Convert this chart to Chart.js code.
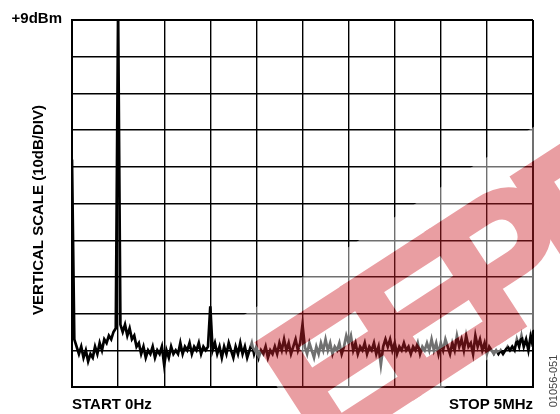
<!DOCTYPE html>
<html>
<head>
<meta charset="utf-8">
<script src="https://cdn.jsdelivr.net/npm/chart.js@4.4.1/dist/chart.umd.min.js"></script>
<style>
  html, body { margin: 0; padding: 0; background: #fff; }
  #wrap { width: 560px; height: 414px; }
</style>
</head>
<body>
<div id="wrap"><canvas id="spectrum" width="560" height="414"></canvas></div>
<script>
// Sweep settings
const startMHz = 0;
const stopMHz = 5;
const topDbm = 9;          // reference level at the top line
const dbPerDiv = 10;
const divisions = 10;

// Trace level (dBm) at each sweep bin, 0 .. 5 MHz in 0.025 MHz steps
const levelDbm = [
  -29, -78, -80, -82, -80, -83, -81, -84, -82, -83,
  -80, -82, -79, -81, -78, -79, -77, -78, -76, -75,
   12, -74, -76, -74, -77, -75, -78, -77, -80, -79,
  -82, -80, -83, -81, -82, -80, -83, -81, -82, -80,
  -85, -81, -83, -80, -82, -81, -82, -79, -82, -80,
  -81, -79, -82, -80, -81, -79, -82, -80, -81, -80,
  -69, -81, -79, -82, -80, -83, -80, -82, -79, -81,
  -83, -80, -82, -79, -82, -80, -83, -81, -79, -82,
  -80, -83, -81, -82, -80, -83, -81, -82, -80, -82,
  -79, -81, -78, -81, -79, -82, -80, -78, -81, -79,
  -74, -80, -82, -79, -81, -83, -80, -82, -79, -81,
  -78, -81, -79, -82, -80, -81, -79, -82, -80, -77,
  -79, -77, -81, -79, -82, -80, -81, -79, -82, -80,
  -81, -79, -82, -80, -85, -80, -78, -80, -78, -81,
  -79, -82, -80, -81, -79, -81, -80, -82, -80, -81,
  -79, -82, -80, -81, -79, -81, -78, -81, -79, -82,
  -79, -81, -78, -80, -82, -79, -81, -77, -80, -78,
  -81, -77, -80, -79, -82, -77, -80, -78, -81, -79,
  -82, -80, -81, -82, -81, -82, -81, -82, -81, -80,
  -81, -80, -81, -78, -80, -77, -80, -78, -81, -77,
  -80
];

// frequency of each bin from the sweep span
const freqMHz = levelDbm.map((v, i) => startMHz + i * (stopMHz - startMHz) / (levelDbm.length - 1));

const labelTop = '+9dBm';
const labelStart = 'START 0Hz';
const labelStop = 'STOP 5MHz';
const labelY = 'VERTICAL SCALE (10dB/DIV)';
const figId = '01056-051';
const stampWord = 'EEPROM';

const points = freqMHz.map((f, i) => ({ x: f, y: levelDbm[i] }));

// text around the graticule + the pink stamp over it
const annotations = {
  id: 'annotations',
  afterDraw(chart) {
    const ctx = chart.ctx;
    const a = chart.chartArea;

    // stamp: white band with heavy red letters, laid over at 44%
    const off = document.createElement('canvas');
    off.width = chart.width;
    off.height = chart.height;
    const o = off.getContext('2d');
    o.translate(319, 457);
    o.rotate(-33 * Math.PI / 180);
    o.font = 'bold 185px "Liberation Sans", Arial, sans-serif';
    o.letterSpacing = '-22px';
    o.textBaseline = 'alphabetic';
    o.fillStyle = '#fff';
    o.fillRect(3, -160, 900, 170);
    o.fillStyle = 'rgb(205,35,45)';
    o.strokeStyle = 'rgb(205,35,45)';
    o.lineWidth = 8;
    o.lineJoin = 'miter';
    o.fillText(stampWord, 0, 0);
    o.strokeText(stampWord, 0, 0);
    ctx.save();
    ctx.globalAlpha = 0.44;
    ctx.drawImage(off, 0, 0);
    ctx.restore();

    ctx.save();
    ctx.fillStyle = '#000';
    ctx.font = 'bold 15px "Liberation Sans", Arial, sans-serif';
    ctx.textAlign = 'right';
    ctx.fillText(labelTop, 62, 23);

    ctx.textAlign = 'left';
    ctx.fillText(labelStart, a.left, 409);
    ctx.textAlign = 'right';
    ctx.fillText(labelStop, a.right, 409);

    ctx.save();
    ctx.translate(43, 210);
    ctx.rotate(-Math.PI / 2);
    ctx.textAlign = 'center';
    ctx.fillText(labelY, 0, 0);
    ctx.restore();

    ctx.save();
    ctx.translate(557, 381);
    ctx.rotate(-Math.PI / 2);
    ctx.textAlign = 'center';
    ctx.fillStyle = '#444';
    ctx.font = '11px "Liberation Sans", Arial, sans-serif';
    ctx.fillText(figId, 0, 0);
    ctx.restore();
    ctx.restore();
  }
};

const edgeWidth = (c) => (c.index === 0 || c.index === divisions) ? 2 : 1.4;

new Chart(document.getElementById('spectrum').getContext('2d'), {
  type: 'line',
  data: {
    datasets: [{
      data: points,
      borderColor: '#000',
      borderWidth: 2.7,
      pointRadius: 0,
      tension: 0,
      fill: false
    }]
  },
  options: {
    responsive: false,
    animation: false,
    layout: { padding: { left: 72, top: 20, right: 27, bottom: 27 } },
    plugins: { legend: { display: false }, tooltip: { enabled: false } },
    scales: {
      x: {
        type: 'linear',
        min: startMHz,
        max: stopMHz,
        ticks: { display: false, stepSize: (stopMHz - startMHz) / divisions },
        grid: { color: '#000', lineWidth: edgeWidth, drawTicks: false },
        border: { display: true, color: '#000', width: 2 }
      },
      y: {
        min: topDbm - dbPerDiv * divisions,
        max: topDbm,
        ticks: { display: false, stepSize: dbPerDiv },
        grid: { color: '#000', lineWidth: edgeWidth, drawTicks: false },
        border: { display: true, color: '#000', width: 2 }
      }
    }
  },
  plugins: [annotations]
});
</script>
</body>
</html>
